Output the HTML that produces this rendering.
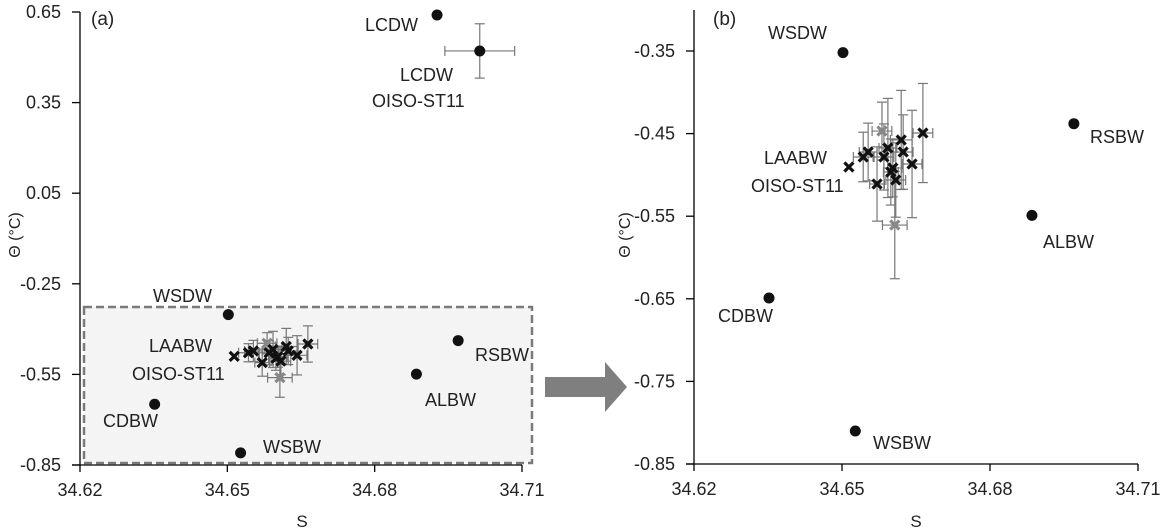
<!DOCTYPE html>
<html><head><meta charset="utf-8">
<style>
html,body{margin:0;padding:0;background:#fff;}
svg{display:block;font-family:"Liberation Sans","DejaVu Sans",sans-serif;}
</style></head>
<body>
<svg id="chart" width="1164" height="531" viewBox="0 0 1164 531" xmlns="http://www.w3.org/2000/svg"></svg>
<script>
// Water mass points (circles)
const massNames = ["WSDW","RSBW","ALBW","CDBW","WSBW"];
const massS = [34.6502, 34.697, 34.6885, 34.6352, 34.6527];
const massT = [-0.352, -0.438, -0.549, -0.649, -0.810];
// LCDW points (panel a only)
const lcdwS = [34.6927, 34.7014];
const lcdwT = [0.640, 0.521];
const lcdwErrS = [0, 0.0071];
const lcdwErrT = [0, 0.09];
// OISO-ST11 / LAABW crosses
const crossS = [34.6581,34.6514,34.6543,34.6553,34.6571,34.6585,34.6593,34.6620,34.6624,34.6603,34.6599,34.6609,34.6642,34.6664,34.6607];
const crossT = [-0.4469,-0.4904,-0.4783,-0.4723,-0.511,-0.4783,-0.4674,-0.4577,-0.4723,-0.4916,-0.4965,-0.5062,-0.4868,-0.4493,-0.5607];
const crossErrS = [0.0020,0.0,0.0020,0.0018,0.0015,0.0020,0.0018,0.0022,0.0020,0.0018,0.0015,0.0020,0.0020,0.0020,0.0025];
const crossErrT = [0.035,0.0,0.030,0.035,0.045,0.040,0.060,0.060,0.045,0.035,0.040,0.045,0.065,0.060,0.065];
const crossGray = [1,0,0,0,0,0,0,0,0,0,0,0,0,0,1];
const xTicks = ["34.62","34.65","34.68","34.71"];
const yTicksA = ["0.65","0.35","0.05","-0.25","-0.55","-0.85"];
const yTicksB = ["-0.35","-0.45","-0.55","-0.65","-0.75","-0.85"];

const svg = document.getElementById('chart');
const NS = "http://www.w3.org/2000/svg";
function mk(tag, attrs, parent){const e=document.createElementNS(NS,tag);for(const k in attrs)e.setAttribute(k,attrs[k]);(parent||svg).appendChild(e);return e;}
function txt(s,x,y,size,anchor,parent){const t=mk('text',{x:x,y:y,'font-size':size,'text-anchor':anchor||'start',fill:'#222'},parent);t.textContent=s;return t;}

function panel(cfg){
  const g = mk('g',{});
  
  
  const X = s => cfg.x0 + (s - 34.62) * (cfg.x1 - cfg.x0) / 0.09;
  const Y = t => cfg.y0 + (cfg.tTop - t) * (cfg.y1 - cfg.y0) / (cfg.tTop - cfg.tBot);
  if (cfg.box) {
    const b = mk('rect',{x:84,y:307,width:448,height:156,fill:'#f4f4f4',stroke:'#7a7a7a','stroke-width':2.5,'stroke-dasharray':'8,4'},g);
    
    
  }
  const ya = mk('line',{x1:cfg.x0,y1:cfg.yTop,x2:cfg.x0,y2:cfg.y1,stroke:'#000','stroke-width':1.3},g);
   
  const xa = mk('line',{x1:cfg.x0-8,y1:cfg.y1,x2:cfg.x1,y2:cfg.y1,stroke:'#000','stroke-width':1.3},g);
   
  xTicks.forEach(l=>{const v=parseFloat(l);const x=X(v);
    mk('line',{x1:x,y1:cfg.y1,x2:x,y2:cfg.y1+7,stroke:'#000','stroke-width':1.3},g);
    const t=txt(l,x,cfg.y1+31,18,'middle',g);
     });
  cfg.yTicks.forEach(l=>{const v=parseFloat(l);const y=Y(v);
    mk('line',{x1:cfg.x0-8,y1:y,x2:cfg.x0,y2:y,stroke:'#000','stroke-width':1.3},g);
    const t=txt(l,cfg.x0-19,y+6,18,'end',g);
     });
  crossS.forEach((s,i)=>{
    const cx=X(s), cy=Y(crossT[i]);
    const ex=crossErrS[i]*(cfg.x1-cfg.x0)/0.09, ey=crossErrT[i]*(cfg.y1-cfg.y0)/(cfg.tTop-cfg.tBot);
    const eg = mk('g',{stroke:'#777','stroke-width':1.2},g);
     
    if(ey>0){mk('line',{x1:cx,y1:cy-ey,x2:cx,y2:cy+ey},eg);mk('line',{x1:cx-5,y1:cy-ey,x2:cx+5,y2:cy-ey},eg);mk('line',{x1:cx-5,y1:cy+ey,x2:cx+5,y2:cy+ey},eg);}
    if(ex>0){mk('line',{x1:cx-ex,y1:cy,x2:cx+ex,y2:cy},eg);mk('line',{x1:cx-ex,y1:cy-5,x2:cx-ex,y2:cy+5},eg);mk('line',{x1:cx+ex,y1:cy-5,x2:cx+ex,y2:cy+5},eg);}
  });
  crossS.forEach((s,i)=>{
    const cx=X(s), cy=Y(crossT[i]), r=4.5;
    const col = crossGray[i] ? '#888' : '#111';
    const p = mk('path',{d:`M${cx-r},${cy-r}L${cx+r},${cy+r}M${cx-r},${cy+r}L${cx+r},${cy-r}`,stroke:col,'stroke-width':3.2},g);
     
  });
  massS.forEach((s,i)=>{
    const c = mk('circle',{cx:X(s),cy:Y(massT[i]),r:5.5,fill:'#111'},g);
     
  });
  if (cfg.lcdw) {
    lcdwS.forEach((s,i)=>{
      const cx=X(s), cy=Y(lcdwT[i]);
      const ex=lcdwErrS[i]*(cfg.x1-cfg.x0)/0.09, ey=lcdwErrT[i]*(cfg.y1-cfg.y0)/(cfg.tTop-cfg.tBot);
      if(ex>0){const eg=mk('g',{stroke:'#777','stroke-width':1.2},g);
         
        mk('line',{x1:cx,y1:cy-ey,x2:cx,y2:cy+ey},eg);mk('line',{x1:cx-5,y1:cy-ey,x2:cx+5,y2:cy-ey},eg);mk('line',{x1:cx-5,y1:cy+ey,x2:cx+5,y2:cy+ey},eg);
        mk('line',{x1:cx-ex,y1:cy,x2:cx+ex,y2:cy},eg);mk('line',{x1:cx-ex,y1:cy-5,x2:cx-ex,y2:cy+5},eg);mk('line',{x1:cx+ex,y1:cy-5,x2:cx+ex,y2:cy+5},eg);}
      const c=mk('circle',{cx:cx,cy:cy,r:5.5,fill:'#111'},g);
       
    });
  }
  cfg.labels.forEach(l=>{const t=txt(l[0],l[1],l[2],18,'start',g);
     });
  const pl=txt(cfg.tag,cfg.tagX,25,19,'start',g);
   
  const xt=txt('S',cfg.sX,527,17,'middle',g);
   
  const yt=txt('Θ (°C)',0,0,16,'middle',g);
  yt.setAttribute('transform',`translate(${cfg.thX},235) rotate(-90)`);
   
}

panel({name:'panel-a',x0:80,x1:522,y0:12,y1:465,yTop:12,tTop:0.65,tBot:-0.85,yTicks:yTicksA,box:true,lcdw:true,
  tag:'(a)',tagX:91,sX:302,thX:20,
  labels:[["LCDW",365,31],["LCDW",400,81],["OISO-ST11",372,107],["WSDW",153,302],["LAABW",149,352],["OISO-ST11",132,380],["RSBW",475,361],["ALBW",425,406],["CDBW",103,427],["WSBW",263,453]]});
panel({name:'panel-b',x0:694,x1:1138,y0:51,y1:464,yTop:10,tTop:-0.35,tBot:-0.85,yTicks:yTicksB,box:false,lcdw:false,
  tag:'(b)',tagX:713,sX:916,thX:630,
  labels:[["WSDW",768,39],["RSBW",1090,143],["ALBW",1043,248],["CDBW",718,322],["WSBW",873,449],["LAABW",764,164],["OISO-ST11",751,192]]});

const arrow = mk('path',{d:'M545,377 L605,377 L605,362 L627,387 L605,412 L605,397 L545,397 Z',fill:'#7f7f7f'});


</script>
</body></html>
